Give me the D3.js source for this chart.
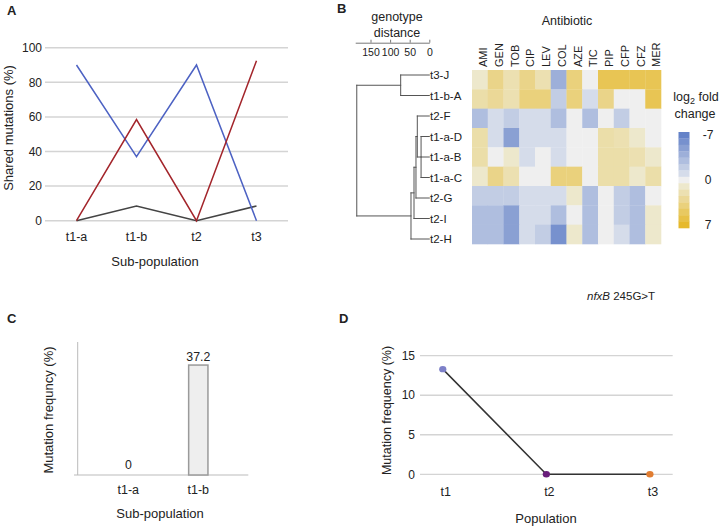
<!DOCTYPE html>
<html><head><meta charset="utf-8">
<script src="https://cdn.jsdelivr.net/npm/d3@7"></script>
<style>
body{margin:0;background:#fff;}
svg{display:block;font-family:"Liberation Sans",Arial,Helvetica,sans-serif;}
</style></head><body>
<svg id="chart" width="726" height="527"></svg>
<script>
// ---------------- DATA ----------------
// Panel A
const aCategories = ["t1-a", "t1-b", "t2", "t3"];
const aBlue = [90, 37, 90, 0];
const aRed = [0, 58.5, 0, 92.5];
const aGrey = [0, 8.5, 0, 8.5];
const aTicks = [0, 20, 40, 60, 80, 100];

// Panel B
const antibiotics = ["AMI", "GEN", "TOB", "CIP", "LEV", "COL", "AZE", "TIC", "PIP", "CFP", "CFZ", "MER"];
const strains = ["t3-J", "t1-b-A", "t2-F", "t1-a-D", "t1-a-B", "t1-a-C", "t2-G", "t2-I", "t2-H"];
const heatValues = [
  [1, 3.5, 2, 3.5, 2, -4, 4, 0, 5.5, 5.5, 5.5, 5.5],
  [2.3, 3, 2, 4, 4, -2, 4, -1, 3.5, 0, 0, 5.5],
  [-3, -1, -2, -1, -1, -3, 0, -3, 0, -2, 0, 0],
  [2.3, -1, -5, -1, -1, -1, 0, 0, 2.3, 2, 1, 0],
  [2.3, 0, 1, -1, 0, -1, 0, 0, 2.3, 2.3, 2, 1],
  [1, 3.5, 2, 0, 0, 4, 4, 0, 2.3, 2.3, 1, 2.3],
  [-2, -2, -2, -1, -1, -1, 1, -3, 0, -2, -3, 0],
  [-3, -3, -5, -1, -1, -3, 0, -3, 0, -2, -3, 1],
  [-3, -3, -5, -1, -2, -6, 1, -3, 0, -1, -3, 1]
];
const distTicks = [0, 50, 100, 150];
const dendrogram = {h: 185, children: [
  {h: 73, children: [{name: "t3-J"}, {name: "t1-b-A"}]},
  {h: 46.7, children: [
    {h: 39, children: [
      {h: 34, children: [
        {h: 30.6, children: [
          {name: "t2-F"},
          {h: 21, children: [{name: "t1-a-D"}, {name: "t1-a-B"}, {name: "t1-a-C"}]}
        ]},
        {name: "t2-G"}
      ]},
      {name: "t2-I"}
    ]},
    {name: "t2-H"}
  ]}
]};
const legendSteps = [-7, -6, -5, -4, -3, -2, -1, 0, 1, 2, 3, 4, 5, 6, 7];
const legendTicks = [-7, 0, 7];

// Panel C
const cCategories = ["t1-a", "t1-b"];
const cValues = [0, 37.2];

// Panel D
const dCategories = ["t1", "t2", "t3"];
const dValues = [13.3, 0, 0];
const dTicks = [0, 5, 10, 15];
const dPointColors = ["#7d80c8", "#6a1e7c", "#e17d31"];

// ---------------- DRAW ----------------
const svg = d3.select("#chart");
const TXT = "#222";

function label(g, text, x, y, opts = {}) {
  return g.append("text").attr("x", x).attr("y", y)
    .attr("font-size", opts.size || 12).attr("fill", opts.fill || TXT)
    .attr("text-anchor", opts.anchor || "start")
    .attr("font-weight", opts.weight || null)
    .text(text);
}

// Panel letters
label(svg, "A", 7, 15, {size: 13, weight: "bold"});
label(svg, "B", 337, 13, {size: 13, weight: "bold"});
label(svg, "C", 7, 323, {size: 13, weight: "bold"});
label(svg, "D", 339, 323, {size: 13, weight: "bold"});

// ===== Panel A =====
{
  const g = svg.append("g");
  const x = d3.scalePoint().domain(aCategories).range([45, 288]).padding(0.525);
  const y = d3.scaleLinear().domain([0, 100]).range([220.7, 47.7]);
  g.selectAll("line.grid").data(aTicks).join("line")
    .attr("x1", 45).attr("x2", 288)
    .attr("y1", d => y(d)).attr("y2", d => y(d))
    .attr("stroke", "#d4d4d4").attr("stroke-width", 1.5);
  g.selectAll("text.yt").data(aTicks).join("text")
    .attr("x", 42).attr("y", d => y(d)).attr("dy", "0.35em")
    .attr("text-anchor", "end").attr("font-size", 12).attr("fill", TXT)
    .text(d => d);
  g.selectAll("text.xt").data(aCategories).join("text")
    .attr("x", d => x(d)).attr("y", 241)
    .attr("text-anchor", "middle").attr("font-size", 12.5).attr("fill", TXT)
    .text(d => d);
  const series = [
    {values: aGrey, color: "#444444"},
    {values: aBlue, color: "#4d62c3"},
    {values: aRed, color: "#a3252b"}
  ];
  const line = d3.line().x((d, i) => x(aCategories[i])).y(d => y(d));
  g.selectAll("path.s").data(series).join("path")
    .attr("d", d => line(d.values)).attr("fill", "none")
    .attr("stroke", d => d.color).attr("stroke-width", 1.5);
  label(g, "Sub-population", 155, 266, {size: 13, anchor: "middle"});
  g.append("text").attr("transform", "translate(12.5,128) rotate(-90)")
    .attr("text-anchor", "middle").attr("font-size", 13).attr("fill", TXT)
    .text("Shared mutations (%)");
}

// ===== Panel B =====
{
  const g = svg.append("g");
  const hx = d3.scaleBand().domain(antibiotics).range([472, 661]);
  const hy = d3.scaleBand().domain(strains).range([70, 244]);
  const color = d3.scaleLinear().domain([-7, -1, 0, 1, 7])
    .range(["#6482c8", "#d5dcea", "#efefef", "#ede8cc", "#e6b92c"]).clamp(true);
  const cells = [];
  heatValues.forEach((row, i) => row.forEach((v, j) => cells.push({s: strains[i], a: antibiotics[j], v})));
  g.selectAll("rect.cell").data(cells).join("rect")
    .attr("x", d => hx(d.a)).attr("y", d => hy(d.s))
    .attr("width", hx.bandwidth() + 0.3).attr("height", hy.bandwidth() + 0.3)
    .attr("fill", d => color(d.v));
  // column labels
  g.selectAll("text.col").data(antibiotics).join("text")
    .attr("transform", d => `translate(${hx(d) + hx.bandwidth() / 2 + 3.5},67) rotate(-90)`)
    .attr("dy", "0.35em").attr("font-size", 11).attr("fill", TXT)
    .text(d => d);
  label(g, "Antibiotic", 567, 25, {size: 12.5, anchor: "middle"});

  // dendrogram
  const dx = d3.scaleLinear().domain([0, 150]).range([429.3, 370.5]);
  const leafY = d3.scalePoint().domain(strains).range([75, 239]);
  const root = d3.hierarchy(dendrogram);
  root.eachAfter(n => {
    if (!n.children) { n.py = leafY(n.data.name); n.px = dx(0); }
    else {
      n.py = (n.children[0].py + n.children[n.children.length - 1].py) / 2;
      n.px = dx(n.data.h);
    }
  });
  const segs = [];
  root.each(n => {
    if (n.children) {
      segs.push({x1: n.px, x2: n.px, y1: n.children[0].py, y2: n.children[n.children.length - 1].py});
      n.children.forEach(c => segs.push({x1: n.px, x2: c.px, y1: c.py, y2: c.py}));
    }
  });
  g.selectAll("line.dend").data(segs).join("line")
    .attr("x1", d => d.x1).attr("x2", d => d.x2).attr("y1", d => d.y1).attr("y2", d => d.y2)
    .attr("stroke", "#555").attr("stroke-width", 1).attr("stroke-linecap", "square");
  g.selectAll("text.leaf").data(root.leaves()).join("text")
    .attr("x", 430).attr("y", d => d.py).attr("dy", "0.35em")
    .attr("font-size", 11.5).attr("fill", TXT).text(d => d.data.name);

  // distance axis
  const axisScale = dx.copy().domain([0, 189]).range([429.3, dx(189)]);
  const axisG = g.append("g").attr("transform", "translate(0,42.7)")
    .call(d3.axisBottom(axisScale).tickValues(distTicks).tickSizeInner(-3).tickSizeOuter(0).tickPadding(6));
  axisG.select(".domain").attr("stroke", "#777");
  axisG.selectAll(".tick line").attr("stroke", "#777");
  axisG.selectAll(".tick text").attr("font-size", 10.5).attr("fill", TXT)
    .attr("font-family", "'Liberation Sans',Arial,sans-serif");
  label(g, "genotype", 397, 21, {size: 12.5, anchor: "middle"});
  label(g, "distance", 397, 37, {size: 12.5, anchor: "middle"});

  // legend
  const ly = d3.scaleBand().domain(legendSteps).range([132, 228]);
  g.selectAll("rect.leg").data(legendSteps).join("rect")
    .attr("x", 678.5).attr("y", d => ly(d)).attr("width", 11).attr("height", ly.bandwidth() + 0.3)
    .attr("fill", d => color(d));
  g.selectAll("text.legt").data(legendTicks).join("text")
    .attr("x", 708).attr("y", d => ly(d) + ly.bandwidth() / 2).attr("dy", "0.35em")
    .attr("text-anchor", "middle").attr("font-size", 12).attr("fill", TXT)
    .text(d => d);
  const t = g.append("text").attr("x", 696).attr("y", 101).attr("text-anchor", "middle")
    .attr("font-size", 12.5).attr("fill", TXT);
  t.append("tspan").text("log");
  t.append("tspan").attr("font-size", 9).attr("dy", 3).text("2");
  t.append("tspan").attr("dy", -3).text(" fold");
  label(g, "change", 695, 118, {size: 12.5, anchor: "middle"});
}

// ===== Panel C =====
{
  const g = svg.append("g");
  const x = d3.scalePoint().domain(cCategories).range([128.3, 198.3]);
  const y = d3.scaleLinear().domain([0, 45]).range([475, 342]);
  g.append("line").attr("x1", 77.7).attr("x2", 77.7).attr("y1", y(45)).attr("y2", y(0))
    .attr("stroke", "#bbb").attr("stroke-width", 1);
  g.append("line").attr("x1", 74).attr("x2", 248.3).attr("y1", y(0)).attr("y2", y(0))
    .attr("stroke", "#bbb").attr("stroke-width", 1.2);
  const bw = 19.3;
  g.selectAll("rect.bar").data(cValues.map((v, i) => ({c: cCategories[i], v})).filter(d => d.v > 0)).join("rect")
    .attr("x", d => x(d.c) - bw / 2).attr("y", d => y(d.v))
    .attr("width", bw).attr("height", d => y(0) - y(d.v))
    .attr("fill", "#eeeeee").attr("stroke", "#9a9a9a").attr("stroke-width", 1.5);
  g.selectAll("text.val").data(cValues).join("text")
    .attr("x", (d, i) => x(cCategories[i])).attr("y", d => y(d) - (d > 0 ? 4.5 : 6))
    .attr("text-anchor", "middle").attr("font-size", 12.3).attr("fill", TXT)
    .text(d => d);
  g.selectAll("text.xt").data(cCategories).join("text")
    .attr("x", d => x(d)).attr("y", 494)
    .attr("text-anchor", "middle").attr("font-size", 12.5).attr("fill", TXT)
    .text(d => d);
  label(g, "Sub-population", 160, 518, {size: 13, anchor: "middle"});
  g.append("text").attr("transform", "translate(53,410) rotate(-90)")
    .attr("text-anchor", "middle").attr("font-size", 13).attr("fill", TXT)
    .text("Mutation frequncy (%)");
}

// ===== Panel D =====
{
  const g = svg.append("g");
  const x = d3.scalePoint().domain(dCategories).range([420, 672.7]).padding(0.22);
  const y = d3.scaleLinear().domain([0, 15]).range([474.3, 355.7]);
  g.selectAll("line.grid").data(dTicks).join("line")
    .attr("x1", 420).attr("x2", 672.7)
    .attr("y1", d => y(d)).attr("y2", d => y(d))
    .attr("stroke", "#d4d4d4").attr("stroke-width", 1.3);
  g.selectAll("text.yt").data(dTicks).join("text")
    .attr("x", 415).attr("y", d => y(d)).attr("dy", "0.35em")
    .attr("text-anchor", "end").attr("font-size", 12).attr("fill", TXT)
    .text(d => d);
  const line = d3.line().x((d, i) => x(dCategories[i])).y(d => y(d));
  g.append("path").attr("d", line(dValues)).attr("fill", "none")
    .attr("stroke", "#333").attr("stroke-width", 1.5);
  g.selectAll("ellipse.pt").data(dValues).join("ellipse")
    .attr("cx", (d, i) => x(dCategories[i])).attr("cy", d => y(d))
    .attr("rx", 3.6).attr("ry", 3.2)
    .attr("fill", (d, i) => dPointColors[i]);
  g.selectAll("text.xt").data(dCategories).join("text")
    .attr("x", d => x(d) + 3).attr("y", 496)
    .attr("text-anchor", "middle").attr("font-size", 12.5).attr("fill", TXT)
    .text(d => d);
  label(g, "Population", 546, 523, {size: 13, anchor: "middle"});
  g.append("text").attr("transform", "translate(391,410.5) rotate(-90)")
    .attr("text-anchor", "middle").attr("font-size", 12.5).attr("fill", TXT)
    .text("Mutation frequency (%)");
  const nt = g.append("text").attr("x", 587).attr("y", 300).attr("font-size", 11.5).attr("fill", TXT);
  nt.append("tspan").attr("font-style", "italic").text("nfxB");
  nt.append("tspan").text(" 245G>T");
}
</script>
</body></html>
